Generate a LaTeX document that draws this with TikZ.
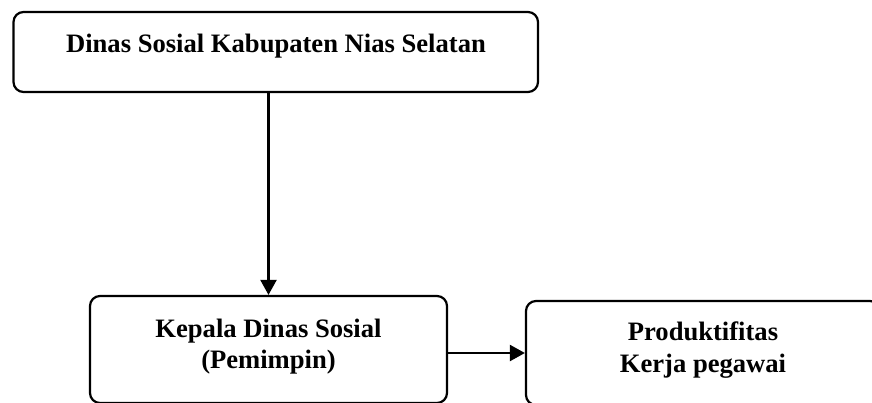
\documentclass[tikz,border=0pt]{standalone}
\usepackage{fontspec}
\setmainfont{Liberation Serif}
\usetikzlibrary{arrows.meta}
\begin{document}
\begin{tikzpicture}
[x=0.5pt,y=-0.5pt,
  boxdecorate/.style={shape=rectangle,rounded corners=5pt,draw,line width=1.1pt,inner sep=0pt},%
  textdecorate/.style={align=center,inner sep=0pt,font=\fontsize{13.3}{15.75}\selectfont\bfseries},%
  arrowdecorate/.style={-{Triangle[length=7.5pt,width=8pt]},line width=1.1pt}]
\useasboundingbox (0,0) rectangle (872,402);
\clip (0,0) rectangle (872,402);
% boxes
\node (dinas) at (275.75,52) [boxdecorate,minimum width=262.25pt,minimum height=40pt] {};
\node (dinastext) at (276,46) [textdecorate] {Dinas Sosial Kabupaten Nias Selatan};
\node (kepala) at (268.5,349.5) [boxdecorate,minimum width=178.5pt,minimum height=53.5pt] {};
\node (kepalatext) at (268.5,346.5) [textdecorate] {Kepala Dinas Sosial\\(Pemimpin)};
\node (produk) at (703,353) [boxdecorate,minimum width=177pt,minimum height=52pt] {};
\node (produktext) at (703,350) [textdecorate] {Produktifitas\\Kerja pegawai};
% arrows
\path
(kepala.north |- dinas.south) edge[arrowdecorate] (kepala.north)
(kepala.east |- produk.west) edge[arrowdecorate] (produk.west);
\end{tikzpicture}
\end{document}
